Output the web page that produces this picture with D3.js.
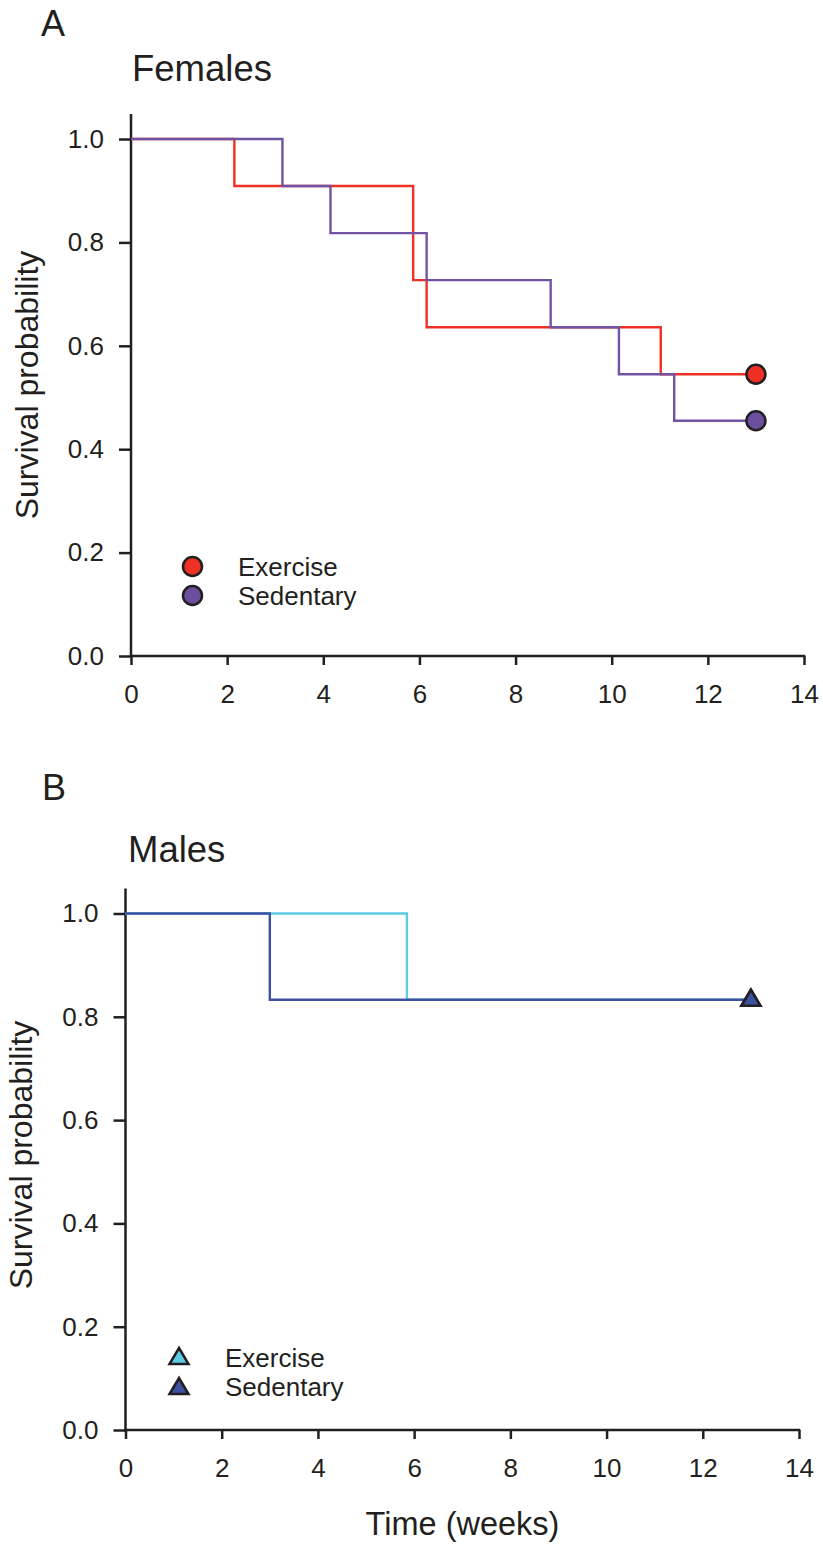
<!DOCTYPE html>
<html>
<head>
<meta charset="utf-8">
<script src="https://cdn.jsdelivr.net/npm/d3@7"></script>
<style>
  html, body { margin: 0; padding: 0; background: #fff; }
  svg text { font-family: "Liberation Sans", Arial, Helvetica, sans-serif; fill: #231f20; }
</style>
</head>
<body>
<svg id="chart" width="823" height="1544"></svg>
<script>
// ---- Data ----
const xTicks = [0, 2, 4, 6, 8, 10, 12, 14];
const yTicks = [0.0, 0.2, 0.4, 0.6, 0.8, 1.0];
const seriesNames = ["Exercise", "Sedentary"];

// Panel A: Females
const femExerciseTime = [0, 2.15, 5.87, 6.15, 11.02, 13];
const femExerciseSurv = [1.0, 0.909, 0.727, 0.636, 0.545, 0.545];
const femSedentaryTime = [0, 3.15, 4.15, 6.15, 8.73, 10.15, 11.30, 13];
const femSedentarySurv = [1.0, 0.909, 0.818, 0.727, 0.636, 0.545, 0.455, 0.455];

// Panel B: Males
const maleExerciseTime = [0, 5.85, 13];
const maleExerciseSurv = [1.0, 0.833, 0.833];
const maleSedentaryTime = [0, 3.0, 13];
const maleSedentarySurv = [1.0, 0.833, 0.833];

const colors = {
  femEx: "#ee3124", femSed: "#7054a3",
  femExFill: "#ee3124", femSedFill: "#6b4e9e",
  maleEx: "#5ecbe2", maleSed: "#3d50a2"
};
const ink = "#231f20";

const svg = d3.select("#chart");

function zip(t, s) { return t.map((d, i) => ({ t: d, s: s[i] })); }

function drawPanel(cfg) {
  const x = d3.scaleLinear().domain([0, 14]).range([cfg.x0, cfg.x1]);
  const y = d3.scaleLinear().domain([0, 1]).range([cfg.y0, cfg.y1]);
  const g = svg.append("g");

  // axes
  const yAxis = d3.axisLeft(y).tickValues(yTicks).tickFormat(d3.format(".1f"))
    .tickSize(12).tickPadding(15).tickSizeOuter(0);
  const ya = g.append("g").attr("transform", `translate(${x(0)},0)`).call(yAxis);
  const xAxis = d3.axisBottom(x).tickValues(xTicks).tickFormat(d3.format("d"))
    .tickSize(9).tickPadding(20).tickSizeOuter(0);
  const xa = g.append("g").attr("transform", `translate(0,${y(0)})`).call(xAxis);
  [ya, xa].forEach(a => {
    a.select(".domain").remove();
    a.selectAll(".tick line").attr("stroke", ink).attr("stroke-width", 2.5);
    a.selectAll(".tick text").attr("font-size", 26).attr("fill", ink)
      .style("font-family", '"Liberation Sans", Arial, sans-serif');
  });
  // axis lines
  g.append("line").attr("x1", x(0)).attr("x2", x(0))
    .attr("y1", y(1) - 25).attr("y2", y(0) + 1.25)
    .attr("stroke", ink).attr("stroke-width", 2.5);
  g.append("line").attr("x1", x(0) - 1.25).attr("x2", x(14) + 1.25)
    .attr("y1", y(0)).attr("y2", y(0))
    .attr("stroke", ink).attr("stroke-width", 2.5);

  // step lines
  const line = d3.line().x(d => x(d.t)).y(d => y(d.s)).curve(d3.curveStepAfter);
  cfg.series.forEach(sr => {
    g.append("path").datum(zip(sr.t, sr.s)).attr("d", line)
      .attr("fill", "none").attr("stroke", sr.color).attr("stroke-width", 2.4)
      .attr("stroke-linejoin", "miter");
  });
  // end markers
  cfg.series.forEach(sr => {
    const last = sr.t.length - 1;
    cfg.marker(g, x(sr.t[last]), y(sr.s[last]), sr.fill);
  });

  // legend
  cfg.series.forEach((sr, i) => {
    cfg.marker(g, cfg.legX, cfg.legY[i], sr.fill);
    g.append("text").attr("x", cfg.legTextX).attr("y", cfg.legBase[i])
      .attr("font-size", 26).text(seriesNames[i]);
  });

  // titles
  g.append("text").attr("x", cfg.letterX).attr("y", cfg.letterY)
    .attr("font-size", 36).text(cfg.letter);
  g.append("text").attr("x", cfg.titleX).attr("y", cfg.titleY)
    .attr("font-size", 36.5).text(cfg.title);
  g.append("text")
    .attr("transform", `translate(${cfg.ylabX},${cfg.ylabY}) rotate(-90)`)
    .attr("text-anchor", "middle").attr("font-size", 32).text("Survival probability");
  return { x, y };
}

function circleMarker(g, cx, cy, fill) {
  g.append("circle").attr("cx", cx).attr("cy", cy).attr("r", 9.5)
    .attr("fill", fill).attr("stroke", ink).attr("stroke-width", 2.5);
}
function triangleMarker(g, cx, cy, fill) {
  const pts = [[0, -10], [9.5, 6], [-9.5, 6]];
  g.append("path")
    .attr("d", d3.line()(pts) + "Z")
    .attr("transform", `translate(${cx},${cy})`)
    .attr("fill", fill).attr("stroke", ink).attr("stroke-width", 2.5)
    .attr("stroke-linejoin", "miter");
}

drawPanel({
  x0: 131, x1: 804, y0: 656, y1: 139,
  series: [
    { t: femExerciseTime, s: femExerciseSurv, color: colors.femEx, fill: colors.femExFill },
    { t: femSedentaryTime, s: femSedentarySurv, color: colors.femSed, fill: colors.femSedFill }
  ],
  marker: circleMarker,
  legX: 192.5, legY: [566.5, 595.5], legTextX: 238, legBase: [576, 604.5],
  letter: "A", letterX: 41, letterY: 36,
  title: "Females", titleX: 132, titleY: 81,
  ylabX: 38, ylabY: 385
});

drawPanel({
  x0: 125.5, x1: 799, y0: 1430, y1: 913.5,
  series: [
    { t: maleExerciseTime, s: maleExerciseSurv, color: colors.maleEx, fill: colors.maleEx },
    { t: maleSedentaryTime, s: maleSedentarySurv, color: colors.maleSed, fill: colors.maleSed }
  ],
  marker: triangleMarker,
  legX: 179, legY: [1358, 1388], legTextX: 225, legBase: [1367, 1396],
  letter: "B", letterX: 42, letterY: 800,
  title: "Males", titleX: 128, titleY: 862,
  ylabX: 32, ylabY: 1155
});

svg.append("text").attr("x", 462.5).attr("y", 1535).attr("text-anchor", "middle")
  .attr("font-size", 32.5).text("Time (weeks)");
</script>
</body>
</html>
